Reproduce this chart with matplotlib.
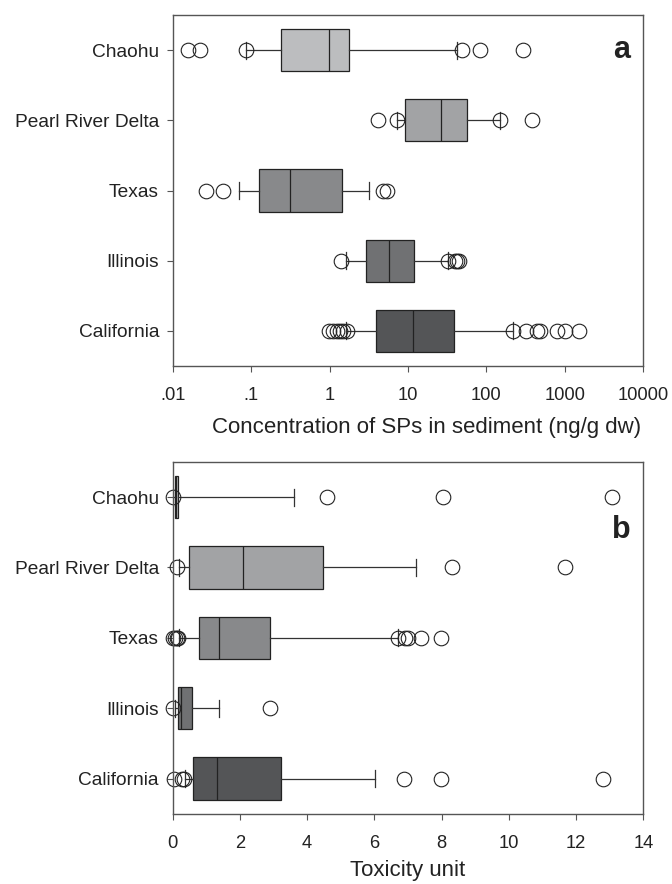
import numpy as np
import matplotlib
matplotlib.use("Agg")
import matplotlib.pyplot as plt

plt.rcParams["font.family"] = ["Liberation Sans", "DejaVu Sans"]

sites = ["Chaohu", "Pearl River Delta", "Texas", "Illinois", "California"]
colors = ["#bcbdbf", "#a2a3a5", "#88898b", "#707173", "#545557"]

# panel a: concentration (ng/g dw), log axis
a_whislo = [0.0855, 7.3, 0.0703, 1.6, 1.6]
a_q1 = [0.237, 9.27, 0.124, 2.92, 3.95]
a_med = [0.99, 26.7, 0.315, 5.8, 11.7]
a_q3 = [1.75, 56.4, 1.43, 12.1, 39.2]
a_whishi = [42, 150, 3.18, 32.8, 218]
a_fliers = [
    [0.0157, 0.022, 0.0855, 48.6, 83.4, 292],
    [4.19, 7.3, 150, 381],
    [0.0264, 0.044, 4.76, 5.36],
    [1.38, 32.8, 39.8, 42.6, 45.2],
    [0.98, 1.11, 1.23, 1.36, 1.5, 1.65, 218, 322, 441, 487, 794, 1014, 1545],
]
a_ticks = [0.01, 0.1, 1, 10, 100, 1000, 10000]
a_ticklabels = [".01", ".1", "1", "10", "100", "1000", "10000"]

# panel b: toxicity unit
b_whislo = [0.01, 0.19, 0.19, 0.07, 0.37]
b_q1 = [0.06, 0.49, 0.79, 0.17, 0.60]
b_med = [0.10, 2.08, 1.37, 0.24, 1.31]
b_q3 = [0.16, 4.46, 2.89, 0.56, 3.21]
b_whishi = [3.61, 7.24, 6.70, 1.39, 6.02]
b_fliers = [
    [0.02, 4.58, 8.05, 13.06],
    [0.14, 8.30, 11.68],
    [0.02, 0.07, 0.12, 0.17, 6.70, 6.91, 7.01, 7.39, 7.99],
    [0.02, 2.88],
    [0.04, 0.27, 0.34, 6.88, 7.99, 12.79],
]
b_ticks = [0, 2, 4, 6, 8, 10, 12, 14]


def make_stats(lo, q1, med, q3, hi, fl):
    out = []
    for i in range(len(med)):
        out.append(dict(whislo=lo[i], q1=q1[i], med=med[i], q3=q3[i],
                        whishi=hi[i], fliers=fl[i], label=sites[i]))
    return out


def draw(ax, stats):
    pos = np.arange(len(stats))
    bp = ax.bxp(stats, positions=pos, vert=False, widths=0.6, capwidths=0.24,
                patch_artist=True, showfliers=True,
                boxprops=dict(edgecolor="#222222", linewidth=0.9),
                medianprops=dict(color="#222222", linewidth=0.9),
                whiskerprops=dict(color="#333333", linewidth=0.9),
                capprops=dict(color="#333333", linewidth=0.9),
                flierprops=dict(marker="o", markersize=10.5, markerfacecolor="none",
                                markeredgecolor="#222222", markeredgewidth=0.8))
    for patch, c in zip(bp["boxes"], colors):
        patch.set_facecolor(c)
    # circles near zero sit across the axis line, as in the original
    for fl in bp["fliers"]:
        fl.set_clip_on(False)
    ax.set_ylim(len(stats) - 0.5, -0.5)
    ax.set_yticks(pos)
    ax.set_yticklabels(sites, fontsize=13.8, color="#222222")
    for s in ax.spines.values():
        s.set_color("#555555")
        s.set_linewidth(1.0)
    ax.tick_params(axis="y", direction="out", length=4, pad=6, color="#555555")
    ax.tick_params(axis="x", direction="out", length=4, pad=11, color="#555555",
                   labelsize=13.2, labelcolor="#222222")


fig = plt.figure(figsize=(6.72, 8.84), dpi=100)

ax1 = fig.add_axes([0.2574, 0.586, 0.6994, 0.397])
draw(ax1, make_stats(a_whislo, a_q1, a_med, a_q3, a_whishi, a_fliers))
ax1.set_xscale("log")
ax1.set_xlim(0.01, 10000)
ax1.set_xticks(a_ticks)
ax1.set_xticklabels(a_ticklabels)
ax1.xaxis.set_minor_locator(matplotlib.ticker.NullLocator())
ax1.set_xlabel("Concentration of SPs in sediment (ng/g dw)", fontsize=16,
               color="#222222")
ax1.xaxis.set_label_coords(0.539, -0.145)
ax1.text(0.955, 0.9, "a", transform=ax1.transAxes, fontsize=22,
         fontweight="bold", ha="center", va="center", color="#222222")

ax2 = fig.add_axes([0.257, 0.0795, 0.7003, 0.398])
draw(ax2, make_stats(b_whislo, b_q1, b_med, b_q3, b_whishi, b_fliers))
ax2.set_xlim(0, 14)
ax2.set_xticks(b_ticks)
ax2.set_xlabel("Toxicity unit", fontsize=16, color="#222222", labelpad=6)
ax2.text(0.9526, 0.807, "b", transform=ax2.transAxes, fontsize=22,
         fontweight="bold", ha="center", va="center", color="#222222")

fig.savefig("out.png", dpi=100)
